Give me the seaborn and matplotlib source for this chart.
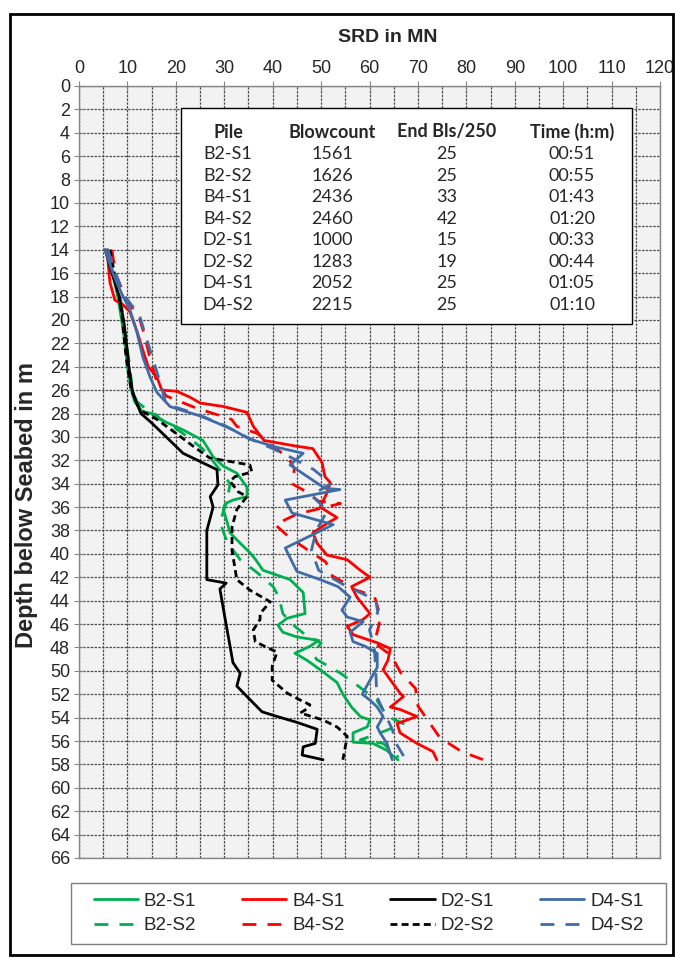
import matplotlib
matplotlib.use("Agg")
import matplotlib.pyplot as plt
import seaborn as sns
import pandas as pd
from matplotlib.patches import Rectangle

# ---------------- data ----------------
piles = ["B2-S1", "B2-S2", "B4-S1", "B4-S2", "D2-S1", "D2-S2", "D4-S1", "D4-S2"]

b2s1_depth = [14, 16, 18, 20, 22, 24, 26, 27, 27.8, 28.1, 28.5, 29.4, 30.3, 31.7, 32.5, 33.1, 34.3, 35.1, 35.4,
              35.7, 36.2, 37.3, 38.2, 38.8, 39.9, 40.5, 41.4, 42.2, 43.3, 45.1, 45.5, 46.1, 46.7, 47.1, 47.4,
              47.9, 48.5, 49.1, 49.9, 51.0, 52.0, 53.1, 53.9, 54.2, 54.8, 55.3, 56.1, 56.2, 56.8, 57.3, 57.6]
b2s1_srd = [6.0, 7.0, 8.0, 8.8, 9.5, 10.0, 10.8, 11.5, 13.0, 16.0, 16.7, 21.5, 25.6, 27.7, 29.8, 32.6, 34.7, 34.7, 31.8,
            30.2, 29.8, 30.6, 31.2, 32.6, 35.3, 36.5, 38.0, 43.6, 46.3, 46.7, 43.0, 41.1, 42.1, 45.0, 49.5,
            47.7, 44.6, 47.1, 49.8, 53.3, 54.5, 56.3, 58.1, 60.1, 59.5, 56.6, 56.6, 60.7, 63.6, 64.9, 65.9]

b2s2_depth = [14, 16, 18, 20, 22, 24, 26, 27, 28, 29, 30, 31, 32.5, 34, 35.4, 37.3, 39, 40.5, 41.6, 42.8, 43.7,
              45.1, 46, 47, 47.6, 48.5, 49, 50.2, 51.4, 52.5, 53.9, 54.5, 55.3, 55.9, 56.2, 57.4]
b2s2_srd = [6.5, 7.5, 8.5, 9.2, 9.8, 10.5, 11.0, 12.0, 15.0, 19.0, 22.5, 25.5, 28.5, 31.2, 30.6, 29.1, 30.6, 33.3,
            36.8, 40.1, 41.3, 42.1, 44.0, 47.0, 50.0, 48.5, 49.0, 54.0, 58.0, 61.5, 63.6, 67.0, 62.2, 58.1, 62.8, 66.0]

b4s1_depth = [14, 16, 16.8, 18.3, 18.7, 19.3, 21, 22.6, 24, 24.9, 26, 26.1, 26.6, 27.1, 27.4, 27.9, 29.1, 30.3,
              30.8, 31, 32.2, 33.4, 33.9, 34.8, 36, 36.9, 37.4, 38.2, 39.1, 40.1, 40.5, 41.4, 42, 42.8, 43.7,
              45.1, 45.6, 46.2, 46.9, 47.2, 47.6, 48.1, 49.1, 49.9, 51, 51.9, 52.2, 53.1, 53.3, 53.9, 54.5,
              55.3, 56.2, 56.9, 57.6]
b4s1_srd = [5.8, 6.2, 6.4, 7.4, 9.1, 10.5, 12.0, 13.2, 14.3, 16.1, 17.1, 20.2, 22.9, 25.0, 29.8, 34.7, 36.0, 38.2,
            45.0, 48.3, 50.2, 50.8, 51.9, 51.2, 49.8, 53.3, 51.2, 48.3, 49.2, 51.2, 55.4, 58.1, 60.1, 56.3, 57.4,
            60.1, 58.7, 55.4, 56.6, 58.7, 61.6, 64.3, 63.8, 62.8, 64.7, 66.3, 67.0, 64.3, 66.3, 69.8, 65.7,
            66.3, 69.8, 73.1, 73.9]

b4s2_depth = [14, 16, 18, 19.3, 20, 21.4, 23, 25.2, 26.5, 27.5, 28.5, 29.1, 29.7, 30.8, 31.7, 32.7, 34, 34.7,
              35.5, 35.7, 36.6, 37.5, 38.6, 39.6, 40.7, 41.8, 42.4, 43, 43.6, 45, 46, 47.6, 48.7, 50.2, 51.5,
              53, 54.2, 55.7, 56.9, 57.6]
b4s2_srd = [6.8, 7.5, 9.5, 11.5, 12.6, 13.6, 14.5, 16.0, 18.0, 24.0, 31.5, 32.6, 36.8, 40.0, 43.0, 44.5, 44.0, 47.0,
            49.5, 54.0, 45.0, 40.5, 43.5, 47.0, 51.0, 52.0, 54.5, 56.5, 61.0, 62.0, 62.0, 61.0, 64.5, 66.5, 69.5,
            70.0, 72.0, 74.5, 79.0, 83.5]

d2s1_depth = [14, 16, 18, 20, 22, 24, 26, 27, 28, 28.8, 30, 31.4, 32.8, 34.1, 35.1, 36, 38, 42.2, 42.5, 43,
              45.6, 49.3, 50.2, 51.3, 52.2, 53.5, 53.9, 54.4, 55, 56.2, 56.5, 57.2, 57.6]
d2s1_srd = [5.4, 6.8, 8.3, 9.2, 9.8, 10.3, 11.0, 11.8, 12.8, 15.0, 18.0, 21.5, 28.5, 28.7, 27.1, 27.7, 26.4, 26.4,
            30.4, 29.1, 30.2, 31.8, 33.3, 32.6, 34.7, 37.8, 40.9, 45.0, 49.2, 48.8, 46.3, 46.1, 50.4]

d2s2_depth = [14, 16, 18, 20, 22, 24, 26, 27, 27.7, 28.5, 29.5, 30.8, 31.8, 32.1, 32.4, 33, 33.4, 33.8, 34.7,
              35.1, 36.2, 37.7, 39.7, 42.2, 43.1, 44.1, 45.1, 45.6, 46.5, 47.5, 48, 48.4, 49.6, 50.8, 51.9,
              52.5, 52.9, 53.2, 53.6, 54.2, 54.8, 55.6, 56.5, 57.6]
d2s2_srd = [6.4, 7.3, 8.3, 9.0, 9.4, 10.0, 10.8, 11.8, 12.6, 16.1, 19.4, 23.6, 27.0, 31.2, 35.3, 35.7, 32.2, 31.2,
            32.9, 34.7, 32.6, 31.6, 31.6, 32.6, 35.3, 39.5, 37.4, 37.4, 36.0, 36.4, 38.8, 40.9, 39.9, 39.9, 43.0,
            45.7, 47.7, 47.3, 45.7, 50.4, 53.3, 55.4, 55.0, 54.5]

d4s1_depth = [14, 16, 16.8, 18, 19.1, 21.1, 23.2, 24.9, 26.2, 27.4, 27.7, 28.2, 28.8, 29.4, 30.2, 30.9, 31.4,
              32.4, 34.4, 34.5, 35.4, 36.5, 37.5, 39.5, 41.5, 42.2, 42.8, 43.7, 44.8, 45.4, 45.8, 46.7, 47.5,
              47.9, 48.5, 49.7, 50.8, 52, 52.5, 53.1, 53.9, 54.8, 55.3, 56.2, 57.6]
d4s1_srd = [5.4, 7.0, 7.8, 9.1, 10.5, 12.0, 13.2, 14.7, 16.1, 18.8, 21.0, 25.0, 28.5, 31.8, 35.3, 41.0, 46.3,
            43.6, 50.8, 53.9, 42.6, 44.0, 52.5, 42.6, 45.0, 49.8, 53.5, 56.0, 54.3, 55.4, 58.7, 56.0, 56.6,
            59.1, 61.6, 61.6, 60.1, 58.5, 60.1, 61.6, 62.8, 61.6, 62.2, 63.6, 64.7]

d4s2_depth = [14, 16, 18, 19.6, 21, 23, 25, 27.2, 28, 29, 30.1, 31, 31.8, 32.8, 34, 35, 36.3, 38, 39.7, 41.4,
              42.6, 43.4, 43.9, 45, 46.5, 48, 50, 52.2, 53.5, 55, 56.2, 57.6]
d4s2_srd = [6.0, 7.5, 9.5, 12.5, 13.5, 15.0, 16.5, 18.0, 24.0, 30.0, 35.0, 40.0, 44.0, 48.5, 52.0, 48.0, 51.3,
            49.0, 48.0, 49.5, 54.5, 58.5, 61.3, 61.7, 60.0, 61.0, 61.3, 61.5, 63.0, 64.7, 65.5, 67.5]

table_header = ["Pile", "Blowcount", "End Bls/250", "Time (h:m)"]
table_blowcount = [1561, 1626, 2436, 2460, 1000, 1283, 2052, 2215]
table_end_bls = [25, 25, 33, 42, 15, 19, 25, 25]
table_time = ["00:51", "00:55", "01:43", "01:20", "00:33", "00:44", "01:05", "01:10"]

x_ticks = list(range(0, 121, 10))
y_ticks = list(range(0, 67, 2))

# ---------------- frame ----------------
series = {
    "B2-S1": (b2s1_depth, b2s1_srd), "B2-S2": (b2s2_depth, b2s2_srd),
    "B4-S1": (b4s1_depth, b4s1_srd), "B4-S2": (b4s2_depth, b4s2_srd),
    "D2-S1": (d2s1_depth, d2s1_srd), "D2-S2": (d2s2_depth, d2s2_srd),
    "D4-S1": (d4s1_depth, d4s1_srd), "D4-S2": (d4s2_depth, d4s2_srd),
}
rows = []
for p in piles:
    d, s = series[p]
    for i, (dd, ss) in enumerate(zip(d, s)):
        rows.append({"pile": p, "depth": dd, "srd": ss, "order": i})
df = pd.DataFrame(rows)

GREEN, RED, BLACK, BLUE = "#00b050", "#ff0000", "#000000", "#3f6ca6"
palette = {"B2-S1": GREEN, "B2-S2": GREEN, "B4-S1": RED, "B4-S2": RED,
           "D2-S1": BLACK, "D2-S2": BLACK, "D4-S1": BLUE, "D4-S2": BLUE}
LONG = (5.0, 4.0)
SHORT = (2.5, 1.5)
dashes = {"B2-S1": "", "B2-S2": LONG, "B4-S1": "", "B4-S2": LONG,
          "D2-S1": "", "D2-S2": SHORT, "D4-S1": "", "D4-S2": LONG}

sns.set_style("ticks")
plt.rcParams["font.family"] = ["Liberation Sans", "DejaVu Sans"]

W, H = 675, 960
fig = plt.figure(figsize=(W / 100, H / 100), dpi=100)
AX_L, AX_R, AX_T, AX_B = 79, 660, 86, 858
ax = fig.add_axes([AX_L / W, 1 - AX_B / H, (AX_R - AX_L) / W, (AX_B - AX_T) / H])
ax.set_facecolor("#f2f2f2")

sns.lineplot(data=df, x="srd", y="depth", hue="pile", style="pile", hue_order=piles, style_order=piles,
             palette=palette, dashes=dashes, sort=False, estimator=None, units="pile", linewidth=2.0,
             legend=False, ax=ax)
for ln in ax.lines:
    ln.set_dash_capstyle("butt")
    ln.set_solid_joinstyle("round")

ax.set_xlim(0, 120)
ax.set_ylim(66, 0)
ax.set_xticks(x_ticks)
ax.set_xticks(list(range(5, 120, 10)), minor=True)
ax.set_yticks(y_ticks)
ax.xaxis.tick_top()
ax.tick_params(axis="x", which="major", direction="inout", length=7, width=0.8, color="#868686",
               labelsize=13, pad=3)
ax.tick_params(axis="x", which="minor", length=0)
ax.tick_params(axis="y", which="major", direction="inout", length=7, width=0.8, color="#868686",
               labelsize=13, pad=3)
ax.set_xlabel("")
ax.set_ylabel("")
gstyle = dict(color="#4d4d4d", linewidth=0.9, linestyle=(0, (2, 1)))
ax.grid(True, which="major", axis="both", **gstyle)
ax.grid(True, which="minor", axis="x", **gstyle)
ax.set_axisbelow(True)
for sp in ax.spines.values():
    sp.set_color("#868686")
    sp.set_linewidth(1.0)

fig.text(388 / W, 1 - 38 / H, "SRD in MN", ha="center", va="center", fontsize=14, fontweight="bold")
fig.text(27 / W, 1 - 505 / H, "Depth below Seabed in m", ha="center", va="center", rotation=90,
         fontsize=17, fontweight="bold")

# ---------------- table box ----------------
def axx(px):
    return (px - AX_L) / (AX_R - AX_L)

def axy(py):
    return 1 - (py - AX_T) / (AX_B - AX_T)

bx0, bx1, by0, by1 = 181, 632, 108, 324
ax.add_patch(Rectangle((axx(bx0), axy(by1)), axx(bx1) - axx(bx0), axy(by0) - axy(by1),
                       transform=ax.transAxes, facecolor="white", edgecolor="black", linewidth=1.0,
                       zorder=10, clip_on=False))
col_x = [228, 332, 447, 572]
hdr_y = 132
row_y0, row_dy = 154, 21.55
tfont = dict(family=["Lato", "DejaVu Sans"], fontsize=13, ha="center", va="center",
             transform=ax.transAxes, zorder=11)
for cx, h in zip(col_x, table_header):
    ax.text(axx(cx), axy(hdr_y), h, fontweight="bold", **tfont)
for i in range(len(piles)):
    vals = [piles[i], str(table_blowcount[i]), str(table_end_bls[i]), table_time[i]]
    for cx, v in zip(col_x, vals):
        ax.text(axx(cx), axy(row_y0 + i * row_dy), v, **tfont)

# ---------------- legend ----------------
lx0, lx1, ly0, ly1 = 71, 666, 883, 944
fig.patches.append(Rectangle((lx0 / W, 1 - ly1 / H), (lx1 - lx0) / W, (ly1 - ly0) / H,
                             transform=fig.transFigure, facecolor="white", edgecolor="#7f7f7f",
                             linewidth=1.0))
handles = list(ax.lines[:len(piles)])
leg = fig.legend(handles, piles, ncol=4, loc="center",
                 bbox_to_anchor=((lx0 + lx1) / 2 / W, 1 - (ly0 + ly1) / 2 / H), bbox_transform=fig.transFigure,
                 frameon=False, fontsize=13.5, handlelength=2.35, handletextpad=0.32,
                 columnspacing=2.45, labelspacing=0.4, borderpad=0.0, borderaxespad=0.0)

fig.patches.append(Rectangle((10 / W, 1 - 955 / H), 663 / W, 941 / H, transform=fig.transFigure,
                             fill=False, edgecolor="black", linewidth=2.0))

fig.savefig("out.png", dpi=100, facecolor="white")
